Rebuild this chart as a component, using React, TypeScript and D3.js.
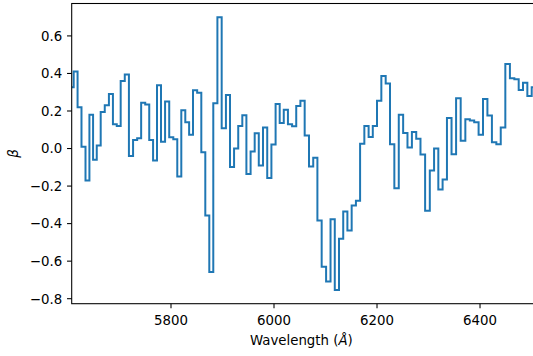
import * as d3 from 'd3';
import React, { useEffect, useRef } from 'react';

// wavelength grid (Å)
const wavelengths = [
    5607.2, 5614.9, 5622.3, 5630.1, 5637.9, 5645.3, 5652.1, 5659.6, 5667.4, 5675.4,
    5683.5, 5691.0, 5698.4, 5706.2, 5714.3, 5722.3, 5730.4, 5738.2, 5745.9, 5754.0,
    5761.5, 5768.9, 5776.7, 5784.5, 5792.5, 5800.6, 5808.3, 5816.1, 5823.9, 5831.6,
    5838.8, 5846.6, 5855.0, 5862.7, 5870.5, 5878.2, 5886.0, 5894.2, 5902.6, 5910.7,
    5918.4, 5926.5, 5934.6, 5942.3, 5950.5, 5958.6, 5966.4, 5974.5, 5982.8, 5990.9,
    5999.0, 6007.2, 6014.9, 6023.0, 6031.1, 6039.1, 6047.2, 6055.3, 6063.8, 6072.1,
    6080.2, 6088.3, 6096.8, 6105.5, 6114.0, 6122.0, 6130.4, 6138.4, 6146.6, 6155.0,
    6163.1, 6171.2, 6179.6, 6187.8, 6195.8, 6204.2, 6212.6, 6221.1, 6229.4, 6237.9,
    6246.6, 6254.9, 6263.4, 6272.1, 6280.2, 6288.6, 6298.2, 6306.8, 6314.8, 6323.3,
    6331.4, 6340.2, 6349.2, 6357.9, 6367.0, 6376.0, 6384.5, 6392.9, 6401.6, 6410.0,
    6418.7, 6427.5, 6435.9, 6444.6, 6453.7, 6462.4, 6470.9, 6479.3, 6487.7, 6496.1,
    6504.6
];

const beta = [
    0.326, 0.41, 0.22, 0.01, -0.17, 0.18, -0.06, 0.016, 0.195, 0.23,
    0.29, 0.13, 0.12, 0.36, 0.395, -0.04, 0.046, 0.055, 0.244, 0.234,
    0.046, -0.064, 0.337, 0.036, 0.25, 0.06, 0.05, -0.149, 0.204, 0.14,
    0.074, 0.31, 0.297, -0.02, -0.357, -0.658, 0.241, 0.70, 0.108, 0.285,
    -0.099, 0.0, 0.12, 0.177, -0.136, -0.016, 0.082, -0.09, 0.112, -0.157,
    0.021, 0.237, 0.136, 0.207, 0.13, 0.119, 0.227, 0.255, 0.069, -0.096,
    -0.049, -0.384, -0.63, -0.708, -0.377, -0.754, -0.481, -0.335, -0.437, -0.303,
    -0.278, 0.025, 0.12, 0.062, 0.12, 0.255, 0.387, 0.347, 0.023, -0.211,
    0.18, 0.083, 0.006, 0.088, 0.052, -0.032, -0.331, -0.117, 0.0, -0.218,
    -0.165, 0.163, -0.03, 0.268, 0.042, 0.156, 0.149, 0.14, 0.074, 0.264,
    0.176, 0.033, 0.023, 0.112, 0.45, 0.375, 0.369, 0.312, 0.35, 0.28,
    0.326
];

const xTicks = [5800, 6000, 6200, 6400];
const yTicks = [-0.8, -0.6, -0.4, -0.2, 0.0, 0.2, 0.4, 0.6];
// the axes run a little past the right edge of the picture
const xLimits = [5607.2, 6508.7];

const width = 533;
const height = 356;
const margin = { left: 71.7, right: -3, top: 3.5, bottom: 52.3 };
const font = '"DejaVu Sans", sans-serif';
const fontSize = 13.33;

const App = () => {
    const svgRef = useRef(null);

    useEffect(() => {
        const svg = d3.select(svgRef.current);
        svg.selectAll('*').remove();

        const x0 = margin.left;
        const x1 = width - margin.right;
        const y0 = margin.top;
        const y1 = height - margin.bottom;

        const xScale = d3.scaleLinear().domain(xLimits).range([x0, x1]);

        // matplotlib style 5% margins on y
        const [lo, hi] = d3.extent(beta);
        const pad = (hi - lo) * 0.05;
        const yScale = d3.scaleLinear().domain([lo - pad, hi + pad]).range([y1, y0]);

        const data = wavelengths.map((w, i) => [w, beta[i]]);

        svg.append('clipPath')
            .attr('id', 'plotArea')
            .append('rect')
            .attr('x', x0)
            .attr('y', y0)
            .attr('width', x1 - x0)
            .attr('height', y1 - y0);

        const lineGen = d3.line()
            .x(d => xScale(d[0]))
            .y(d => yScale(d[1]))
            .curve(d3.curveStep);

        svg.append('path')
            .datum(data)
            .attr('clip-path', 'url(#plotArea)')
            .attr('d', lineGen)
            .attr('fill', 'none')
            .attr('stroke', '#1f77b4')
            .attr('stroke-width', 2)
            .attr('stroke-linejoin', 'miter');

        // frame
        svg.append('rect')
            .attr('x', x0)
            .attr('y', y0)
            .attr('width', x1 - x0)
            .attr('height', y1 - y0)
            .attr('fill', 'none')
            .attr('stroke', '#000')
            .attr('stroke-width', 1.07);

        const fmt = d3.format('.1f');

        const xt = svg.append('g')
            .selectAll('g')
            .data(xTicks)
            .join('g')
            .attr('transform', d => `translate(${xScale(d)},${y1})`);
        xt.append('line').attr('y2', 4.67).attr('stroke', '#000').attr('stroke-width', 1.07);
        xt.append('text')
            .attr('y', 21.3)
            .attr('text-anchor', 'middle')
            .attr('font-family', font)
            .attr('font-size', fontSize)
            .attr('fill', '#000')
            .text(d => d);

        const yt = svg.append('g')
            .selectAll('g')
            .data(yTicks)
            .join('g')
            .attr('transform', d => `translate(${x0},${yScale(d)})`);
        yt.append('line').attr('x2', -4.67).attr('stroke', '#000').attr('stroke-width', 1.07);
        yt.append('text')
            .attr('x', -9.5)
            .attr('dy', '0.36em')
            .attr('text-anchor', 'end')
            .attr('font-family', font)
            .attr('font-size', fontSize)
            .attr('fill', '#000')
            .text(d => fmt(d));

        const xLabel = svg.append('text')
            .attr('x', (x0 + 531) / 2)
            .attr('y', 345)
            .attr('text-anchor', 'middle')
            .attr('font-family', font)
            .attr('font-size', fontSize)
            .attr('fill', '#000');
        xLabel.append('tspan').text('Wavelength (');
        xLabel.append('tspan').attr('font-style', 'italic').text('Å');
        xLabel.append('tspan').text(')');

        svg.append('text')
            .attr('transform', `translate(18,${(y0 + y1) / 2}) rotate(-90)`)
            .attr('text-anchor', 'middle')
            .attr('font-family', font)
            .attr('font-size', fontSize)
            .attr('font-style', 'italic')
            .attr('fill', '#000')
            .text('β');
    }, []);

    return (
        <svg
            ref={svgRef}
            width={width}
            height={height}
            style={{ position: 'absolute', left: 0, top: 0, background: '#fff' }}
        />
    );
};

export default App;
